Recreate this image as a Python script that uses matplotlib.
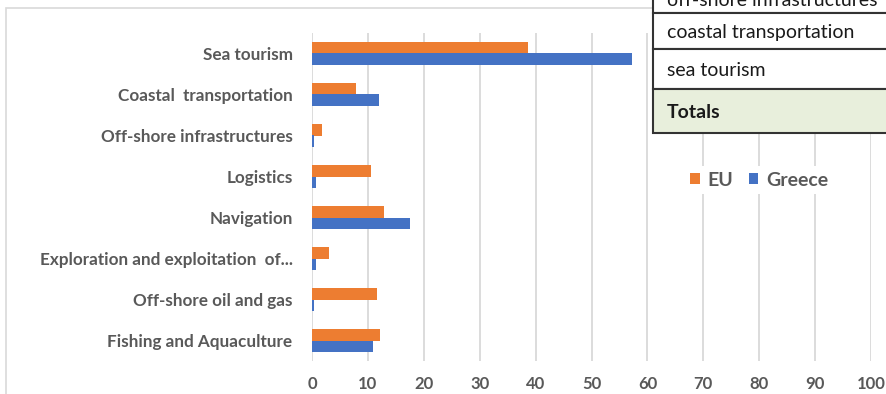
import matplotlib.pyplot as plt
import numpy as np
from matplotlib.patches import Rectangle

plt.rcParams['font.family'] = ['Lato', 'DejaVu Sans']

sectors = ["Fishing and Aquaculture", "Off-shore oil and gas",
           "Exploration and exploitation  of...", "Navigation", "Logistics",
           "Off-shore infrastructures", "Coastal  transportation", "Sea tourism"]
eu = [12.2, 11.6, 3.0, 12.9, 10.5, 1.7, 7.8, 38.6]
greece = [10.9, 0.4, 0.7, 17.6, 0.7, 0.4, 11.9, 57.3]

table_rows = ["off-shore infrastructures", "coastal transportation", "sea tourism", "Totals"]

W, H = 886, 394
grey = "#595959"
fig = plt.figure(figsize=(W / 100, H / 100), dpi=100)

# chart frame
fig.add_artist(Rectangle((6 / W, -0.1), 1.2, (H - 8) / H + 0.1, transform=fig.transFigure,
                         fill=False, edgecolor="#d9d9d9", lw=1.2))

ax = fig.add_axes([312 / W, 33 / H, (871 - 312) / W, (361 - 33) / H])
y = np.arange(len(sectors))
bh = 0.28
ax.barh(y + bh / 2, eu, height=bh, color="#ED7D31", label="EU", zorder=3)
ax.barh(y - bh / 2, greece, height=bh, color="#4472C4", label="Greece", zorder=3)

ax.set_xlim(0, 100)
ax.set_ylim(-0.5, len(sectors) - 0.5)
ax.set_xticks(np.arange(0, 101, 10))
ax.set_yticks(y)
ax.set_yticklabels(sectors)
ax.grid(axis="x", color="#d9d9d9", lw=1.3, zorder=0)
for s in ax.spines.values():
    s.set_visible(False)
ax.tick_params(length=0, labelcolor=grey)
ax.tick_params(axis="x", pad=11, labelsize=12)
ax.tick_params(axis="y", pad=14, labelsize=12.3)
for lbl in ax.get_xticklabels() + ax.get_yticklabels():
    lbl.set_fontweight("bold")

leg = ax.legend(loc="center", bbox_to_anchor=(759 / W, 1 - 180 / H),
                bbox_transform=fig.transFigure, ncol=2, frameon=True,
                handlelength=0.5, handleheight=0.5, handletextpad=0.4,
                columnspacing=0.8, borderpad=0.3,
                prop={"weight": "bold", "size": 14})
leg.get_frame().set_edgecolor("none")
leg.get_frame().set_facecolor("white")
leg.get_frame().set_alpha(1)
for t in leg.get_texts():
    t.set_color(grey)

# overlaid table in the top right corner
ov = fig.add_axes([0, 0, 1, 1], zorder=10)
ov.set_xlim(0, W)
ov.set_ylim(H, 0)
ov.axis("off")
edges = [-25, 13, 49, 89, 133]
for i, name in enumerate(table_rows):
    top, bot = edges[i], edges[i + 1]
    fc = "#e8efdc" if name == "Totals" else "white"
    ov.add_patch(Rectangle((653, top), 300, bot - top, facecolor=fc,
                           edgecolor="#333333", lw=1.5, clip_on=False))
    ty = 0 if i == 0 else (top + bot) / 2 + 1
    ov.text(667, ty, name, fontsize=14, color="#1a1a1a",
            va="center", ha="left", fontweight="bold" if name == "Totals" else "normal")

fig.savefig("out.png", dpi=100)
